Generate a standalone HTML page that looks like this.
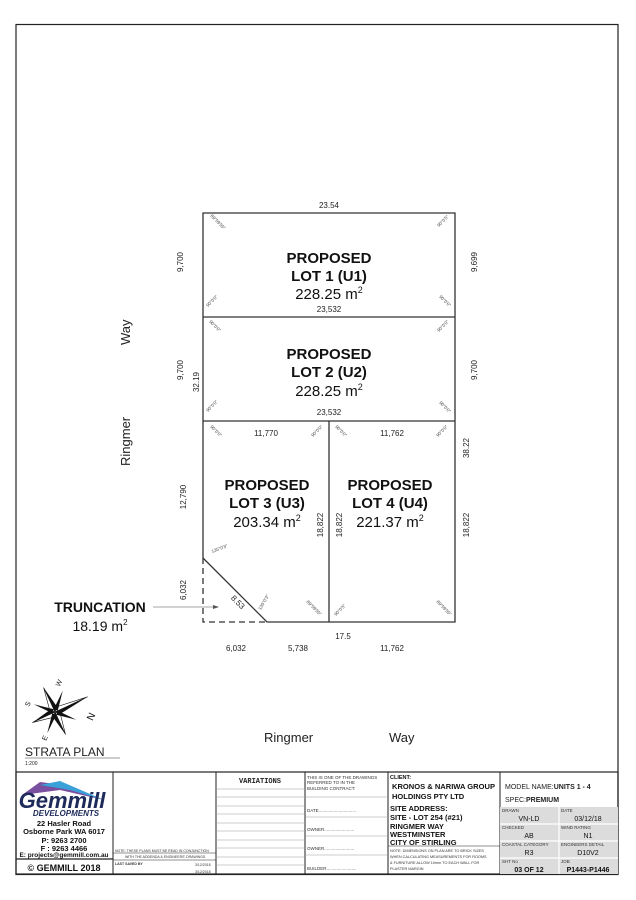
<!DOCTYPE html>
<html><head><meta charset="utf-8"><style>
html,body{margin:0;padding:0;background:#fff}
svg{display:block;font-family:"Liberation Sans",Arial,sans-serif}
</style></head><body>
<svg width="636" height="900" viewBox="0 0 636 900" xmlns="http://www.w3.org/2000/svg">
<rect x="16" y="24.5" width="602" height="850" fill="none" stroke="#222" stroke-width="1.2"/>
<!-- plan -->
<g stroke="#333" stroke-width="1.3" fill="none">
<polyline points="203,558 203,213 455,213 455,622 267,622 203,558"/>
<line x1="203" y1="317" x2="455" y2="317"/>
<line x1="203" y1="421" x2="455" y2="421"/>
<line x1="329" y1="421" x2="329" y2="622"/>
<polyline points="203,558 203,622 267,622" stroke-dasharray="6,4"/>
</g>
<g font-size="8" fill="#222" text-anchor="middle">
<text x="329" y="208">23.54</text>
<text x="329" y="312">23,532</text>
<text x="329" y="415">23,532</text>
<text x="266" y="436">11,770</text>
<text x="392" y="436">11,762</text>
<text x="343" y="639">17.5</text>
<text x="236" y="651">6,032</text>
<text x="298" y="651">5,738</text>
<text x="392" y="651">11,762</text>
<text transform="translate(183,262) rotate(-90)">9,700</text>
<text transform="translate(477,262) rotate(-90)">9,699</text>
<text transform="translate(183,370) rotate(-90)">9,700</text>
<text transform="translate(199,382) rotate(-90)">32.19</text>
<text transform="translate(477,370) rotate(-90)">9,700</text>
<text transform="translate(186,497) rotate(-90)">12,790</text>
<text transform="translate(469,448) rotate(-90)">38.22</text>
<text transform="translate(469,525) rotate(-90)">18,822</text>
<text transform="translate(323,525) rotate(-90)">18,822</text>
<text transform="translate(342,525) rotate(-90)">18,822</text>
<text transform="translate(186,590) rotate(-90)">6,032</text>
<text transform="translate(236,604) rotate(45)">8.53</text>
</g>
<g font-size="4.5" fill="#444" text-anchor="middle">
<text transform="translate(217,223) rotate(45)">89°59'55"</text>
<text transform="translate(444,222) rotate(-45)">90°0'5"</text>
<text transform="translate(213,302) rotate(-45)">90°0'0"</text>
<text transform="translate(444,302) rotate(45)">90°0'0"</text>
<text transform="translate(214,327) rotate(45)">90°0'0"</text>
<text transform="translate(444,327) rotate(-45)">90°0'0"</text>
<text transform="translate(213,407) rotate(-45)">90°0'0"</text>
<text transform="translate(444,408) rotate(45)">90°0'0"</text>
<text transform="translate(215,432) rotate(45)">90°0'0"</text>
<text transform="translate(318,432) rotate(-45)">90°0'0"</text>
<text transform="translate(340,432) rotate(45)">90°0'0"</text>
<text transform="translate(443,432) rotate(-45)">90°0'0"</text>
<text transform="translate(220,550) rotate(-20)">135°0'3"</text>
<text transform="translate(265,603) rotate(-60)">135°0'3"</text>
<text transform="translate(313,609) rotate(45)">89°59'55"</text>
<text transform="translate(341,611) rotate(-45)">90°0'5"</text>
<text transform="translate(443,609) rotate(45)">89°59'55"</text>
</g>
<g fill="#111" text-anchor="middle" font-size="15">
<text x="329" y="263" font-weight="bold">PROPOSED</text>
<text x="329" y="281" font-weight="bold">LOT 1 (U1)</text>
<text x="329" y="299">228.25 m<tspan font-size="9" dy="-6">2</tspan></text>
<text x="329" y="359" font-weight="bold">PROPOSED</text>
<text x="329" y="377" font-weight="bold">LOT 2 (U2)</text>
<text x="329" y="396">228.25 m<tspan font-size="9" dy="-6">2</tspan></text>
<text x="267" y="490" font-weight="bold">PROPOSED</text>
<text x="267" y="508" font-weight="bold">LOT 3 (U3)</text>
<text x="267" y="527">203.34 m<tspan font-size="9" dy="-6">2</tspan></text>
<text x="390" y="490" font-weight="bold">PROPOSED</text>
<text x="390" y="508" font-weight="bold">LOT 4 (U4)</text>
<text x="390" y="527">221.37 m<tspan font-size="9" dy="-6">2</tspan></text>
<text x="100" y="612" font-size="14" font-weight="bold">TRUNCATION</text>
<text x="100" y="631" font-size="14">18.19 m<tspan font-size="8" dy="-6">2</tspan></text>
</g>
<line x1="153" y1="607" x2="215" y2="607" stroke="#888" stroke-width="0.8"/>
<polygon points="219,607 213,605 213,609" fill="#555"/>
<g font-size="13" fill="#222">
<text transform="translate(130,345) rotate(-90)">Way</text>
<text transform="translate(130,466) rotate(-90)">Ringmer</text>
<text x="264" y="742">Ringmer</text>
<text x="389" y="742">Way</text>
</g>
<!-- compass -->
<g transform="translate(55,712) rotate(-25)">
<polygon points="0,-27 4,-4 0,0" fill="#111"/><polygon points="0,-27 -4,-4 0,0" fill="#fff" stroke="#111" stroke-width="0.6"/>
<polygon points="36,0 4,4 0,0" fill="#111"/><polygon points="36,0 4,-4 0,0" fill="#fff" stroke="#111" stroke-width="0.6"/>
<polygon points="0,25 -4,4 0,0" fill="#111"/><polygon points="0,25 4,4 0,0" fill="#fff" stroke="#111" stroke-width="0.6"/>
<polygon points="-25,0 -4,-4 0,0" fill="#111"/><polygon points="-25,0 -4,4 0,0" fill="#fff" stroke="#111" stroke-width="0.6"/>
<polygon points="16,-16 3,0 0,-3" fill="#111"/><polygon points="16,16 0,3 3,0" fill="#111"/>
<polygon points="-16,16 -3,0 0,3" fill="#111"/><polygon points="-16,-16 0,-3 -3,0" fill="#111"/>
</g>
<g font-size="7" fill="#111" text-anchor="middle">
<text transform="translate(61,684) rotate(-65)">W</text>
<text transform="translate(30,705) rotate(-65)">S</text>
<text transform="translate(94,718) rotate(-65)" font-size="10">N</text>
<text transform="translate(47,739) rotate(-65)">E</text>
</g>
<text x="25" y="756" font-size="12" fill="#222">STRATA PLAN</text>
<line x1="25" y1="758" x2="120" y2="758" stroke="#999" stroke-width="1"/>
<text x="25" y="765" font-size="5" fill="#222">1:200</text>
<!-- title block -->
<g stroke="#222" fill="none">
<rect x="16" y="772" width="602" height="102" stroke-width="1.2"/>
<line x1="113" y1="772" x2="113" y2="874"/>
<line x1="216" y1="772" x2="216" y2="874"/>
<line x1="305" y1="772" x2="305" y2="874"/>
<line x1="388" y1="772" x2="388" y2="874"/>
<line x1="500" y1="772" x2="500" y2="874"/>
<line x1="16" y1="859" x2="113" y2="859" stroke-width="1.2"/>
<line x1="113" y1="853" x2="216" y2="853" stroke-width="0.5"/>
<line x1="113" y1="860" x2="216" y2="860" stroke-width="0.5"/>
<line x1="388" y1="846" x2="500" y2="846" stroke-width="0.5"/>
</g>
<rect x="500" y="807" width="118" height="67" fill="#dcdcdc"/>
<g stroke="#fff" stroke-width="1.2">
<line x1="559" y1="807" x2="559" y2="874"/>
<line x1="500" y1="824" x2="618" y2="824"/><line x1="500" y1="841" x2="618" y2="841"/><line x1="500" y1="858" x2="618" y2="858"/>
</g>
<g stroke="#999" stroke-width="0.5">
<line x1="216" y1="789" x2="305" y2="789"/><line x1="216" y1="797" x2="305" y2="797"/><line x1="216" y1="806" x2="305" y2="806"/>
<line x1="216" y1="814" x2="305" y2="814"/><line x1="216" y1="823" x2="305" y2="823"/><line x1="216" y1="831" x2="305" y2="831"/>
<line x1="216" y1="840" x2="305" y2="840"/><line x1="216" y1="848" x2="305" y2="848"/><line x1="216" y1="857" x2="305" y2="857"/>
<line x1="216" y1="865" x2="305" y2="865"/>
<line x1="305" y1="797" x2="388" y2="797"/><line x1="305" y1="817" x2="388" y2="817"/><line x1="305" y1="836" x2="388" y2="836"/><line x1="305" y1="855" x2="388" y2="855"/>
</g>
<!-- logo -->
<polygon points="22,795 40,782 70,786 104,800 60,790" fill="#7a4fa0"/>
<polygon points="40,785 60,781 104,800 70,790" fill="#3aa0d8"/>
<text x="62" y="808" font-size="22" font-weight="bold" font-style="italic" fill="#1d2a5a" text-anchor="middle">Gemmill</text>
<text x="66" y="816" font-size="8" font-weight="bold" font-style="italic" fill="#1d2a5a" text-anchor="middle">DEVELOPMENTS</text>
<g font-size="7.5" font-weight="bold" fill="#111" text-anchor="middle">
<text x="64" y="826">22 Hasler Road</text>
<text x="64" y="834">Osborne Park WA 6017</text>
<text x="64" y="843">P:  9263 2700</text>
<text x="64" y="851">F :  9263 4466</text>
<text x="64" y="857" font-size="6.5">E: projects@gemmill.com.au</text>
<text x="64" y="871" font-size="9">© GEMMILL 2018</text>
</g>
<g font-size="3.5" fill="#333">
<text x="115" y="852">NOTE: THESE PLANS MUST BE READ IN CONJUNCTION</text>
<text x="125" y="858">WITH THE ADDENDA &amp; ENGINEERS' DRAWINGS.</text>
<text x="115" y="865" font-weight="bold">LAST SAVED BY</text>
<text x="195" y="866">3/12/2018</text><text x="195" y="873">3/12/2018</text>
</g>
<text x="260" y="783" font-size="7" font-weight="bold" fill="#222" text-anchor="middle" font-family="Liberation Mono">VARIATIONS</text>
<g font-size="4.5" fill="#333">
<text x="307" y="779">THIS IS ONE OF THE DRAWINGS</text>
<text x="307" y="784">REFERRED TO IN THE</text>
<text x="307" y="790">BUILDING CONTRACT:</text>
<text x="307" y="812">DATE..............................</text>
<text x="307" y="831">OWNER........................</text>
<text x="307" y="850">OWNER........................</text>
<text x="307" y="870">BUILDER........................</text>
</g>
<g font-size="7.5" font-weight="bold" fill="#111">
<text x="390" y="779" font-size="5.5">CLIENT:</text>
<text x="392" y="789" textLength="103" lengthAdjust="spacingAndGlyphs">KRONOS &amp; NARIWA GROUP</text>
<text x="392" y="799">HOLDINGS PTY LTD</text>
<text x="390" y="811">SITE ADDRESS:</text>
<text x="390" y="820">SITE - LOT 254 (#21)</text>
<text x="390" y="829">RINGMER WAY</text>
<text x="390" y="837">WESTMINSTER</text>
<text x="390" y="845">CITY OF STIRLING</text>
</g>
<g font-size="3.8" fill="#333">
<text x="390" y="852">NOTE: DIMENSIONS ON PLAN ARE TO BRICK SIZES</text>
<text x="390" y="858">WHEN CALCULATING MEASUREMENTS FOR ROOMS</text>
<text x="390" y="864">&amp; FURNITURE ALLOW 10mm TO EACH WALL FOR</text>
<text x="390" y="870">PLASTER MARGIN</text>
</g>
<text x="505" y="789" font-size="7" fill="#222">MODEL NAME:<tspan font-weight="bold">UNITS 1 - 4</tspan></text>
<text x="505" y="802" font-size="7" fill="#222">SPEC:<tspan font-weight="bold">PREMIUM</tspan></text>
<g font-size="4.5" fill="#333">
<text x="502" y="812">DRAWN</text><text x="561" y="812">DATE</text>
<text x="502" y="829">CHECKED</text><text x="561" y="829">WIND RATING</text>
<text x="502" y="846">COASTAL CATEGORY</text><text x="561" y="846">ENGINEERS DETAIL</text>
<text x="502" y="863">SHT No</text><text x="561" y="863">JOB</text>
</g>
<g font-size="7" fill="#111" text-anchor="middle">
<text x="529" y="821">VN-LD</text><text x="588" y="821">03/12/18</text>
<text x="529" y="838">AB</text><text x="588" y="838">N1</text>
<text x="529" y="855">R3</text><text x="588" y="855">D10V2</text>
<text x="529" y="872" font-weight="bold">03 OF 12</text><text x="588" y="872" font-weight="bold">P1443-P1446</text>
</g>
</svg>
</body></html>
